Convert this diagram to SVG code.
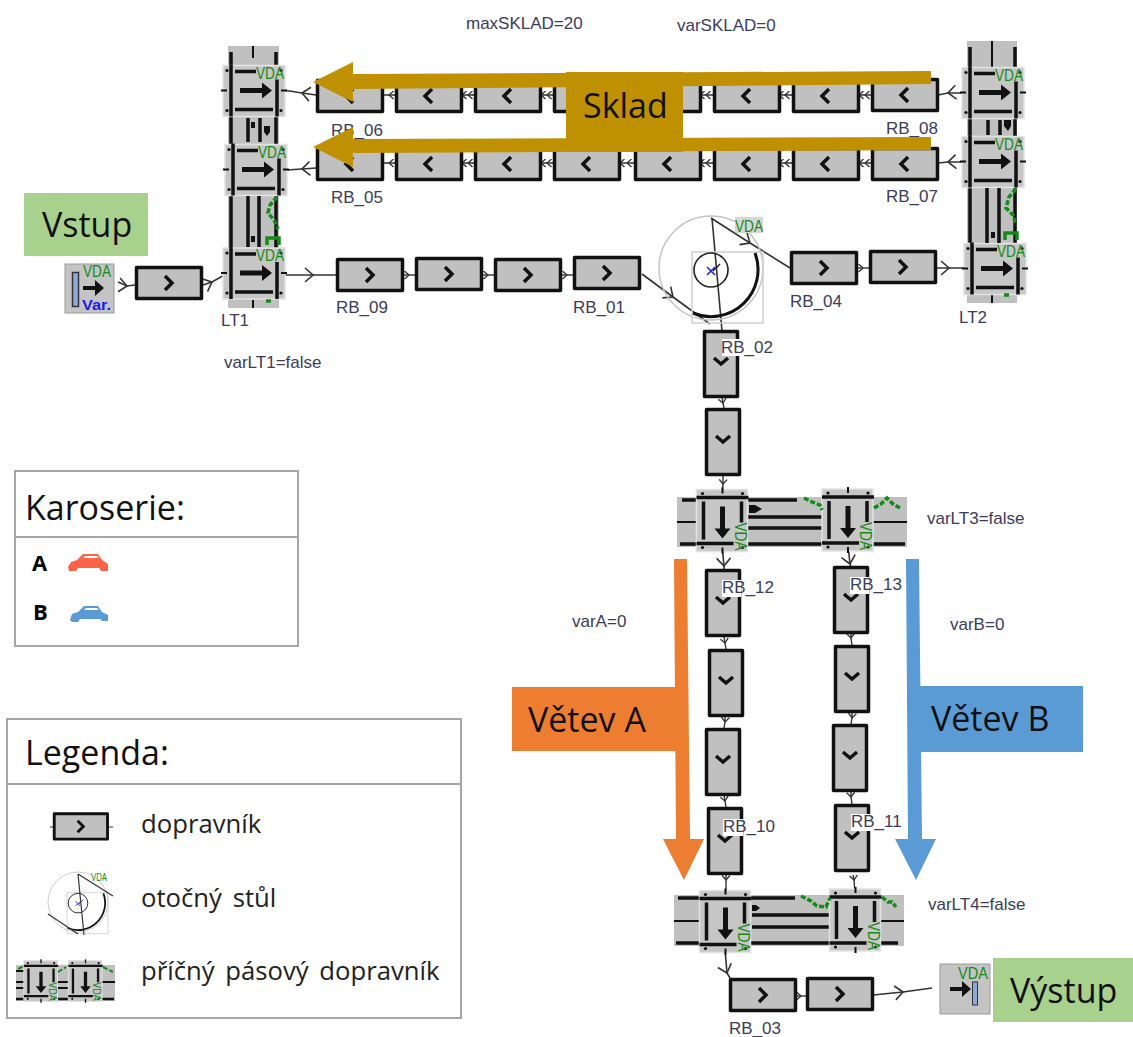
<svg xmlns="http://www.w3.org/2000/svg" xmlns:xlink="http://www.w3.org/1999/xlink" width="1133" height="1037" viewBox="0 0 1133 1037">
<style>
.lab{font-family:"Liberation Sans",Arial,sans-serif;font-size:17px;fill:#3c3c58}
.big{font-family:"Open Sans","Noto Sans",sans-serif;font-size:34px;fill:#111}
.leg{font-family:"Open Sans","Noto Sans",sans-serif;font-size:25.7px;word-spacing:4px;fill:#222}
.ab{font-family:"Open Sans","Noto Sans",sans-serif;font-size:22px;font-weight:700;fill:#000}
.vda{font-family:"Liberation Sans",Arial,sans-serif;font-size:17px;fill:#168a16}
.cb{fill:#c0c0c0;stroke:#111;stroke-width:3.5;stroke-linejoin:round}
.ch{fill:none;stroke:#111;stroke-width:3.5}
.bar{fill:none;stroke:#111;stroke-width:3.5}
.bar2{fill:none;stroke:#111;stroke-width:2}
.grn{fill:none;stroke:#168a16;stroke-width:3.5;stroke-dasharray:5 2}
.band{fill:#c0c0c0}
.unit{fill:#c6c6c6;stroke:#e2e2e2;stroke-width:1.5}
.dot{fill:#111}
.frame{fill:#fff;stroke:#a6a6a6;stroke-width:2}
.ln{fill:none;stroke:#a6a6a6;stroke-width:2}
.c{fill:none;stroke:#333;stroke-width:1.6;marker-mid:url(#fork)}
.s{fill:none;stroke:#333;stroke-width:1.4;marker-mid:url(#forks)}
.w{fill:#fff}
</style>
<defs>
<marker id="fork" markerUnits="userSpaceOnUse" viewBox="-10 -8 12 16" markerWidth="12" markerHeight="16" orient="auto"><path d="M-8,-7 L0,0 L-8,7" fill="none" stroke="#333" stroke-width="1.6"/></marker>
<marker id="forks" markerUnits="userSpaceOnUse" viewBox="-10 -8 12 16" markerWidth="7" markerHeight="9" orient="auto"><path d="M-8,-7 L0,0 L-8,7" fill="none" stroke="#333" stroke-width="2.4"/></marker>
<g id="conv-r"><rect class="cb" x="1.5" y="1.5" width="65" height="31"/><path class="ch" d="M30,10 L37,17 L30,24"/></g>
<g id="conv-l"><rect class="cb" x="1.5" y="1.5" width="65" height="31"/><path class="ch" d="M37,10 L30,17 L37,24"/></g>
<g id="conv-d"><rect class="cb" x="1.5" y="1.5" width="33" height="65"/><path class="ch" d="M11,28 L18,34 L25,28"/></g>
<g id="lt-r">
<rect class="unit" x="-31" y="-25" width="62" height="51"/>
<path class="bar" d="M-23,-26 V26 M23,-11 V26 M-19,-19 H2 M-19,19 H19"/>
<path d="M-14,-2.5 H8 V-8 L18,0 L8,8 V2.5 H-14 Z" fill="#111"/>
<path class="bar2" d="M-33,0 H-27 M27,0 H33"/>
<circle class="dot" cx="-27" cy="-20" r="1.6"/><circle class="dot" cx="27" cy="-20" r="1.6"/><circle class="dot" cx="-27" cy="20" r="1.6"/><circle class="dot" cx="27" cy="20" r="1.6"/>
<text class="vda" x="2" y="-12" textLength="28" lengthAdjust="spacingAndGlyphs">VDA</text>
</g>
<g id="table">
<circle cx="0" cy="0" r="52" fill="none" stroke="#c4c4c4" stroke-width="1.5"/>
<rect x="-19" y="-16" width="71" height="71" fill="none" stroke="#cfcfcf" stroke-width="1.5"/>
<circle cx="0" cy="2" r="17" fill="none" stroke="#222" stroke-width="1.6"/>
<path d="M44,-15 A47,47 0 0 1 -18,45" fill="none" stroke="#111" stroke-width="3"/>
<path d="M-4,-1 L4,7 M-4,7 L4,-1" stroke="#2222ee" stroke-width="1.6" fill="none"/>
<path d="M2,3 L9,-4" stroke="#222" stroke-width="1.4" fill="none"/>
</g>
</defs>

<g id="connectors">
<path class="c" d="M118,282 L127,286 L135,285"/>
<path class="c" d="M203,285 L212,282 L228,273"/>
<path class="c" d="M281,275 L313,275 L336,275"/>
<path class="s" d="M403,275 L409,275 L415,275"/>
<path class="s" d="M482,275 L488,275 L494,275"/>
<path class="s" d="M561,275 L567,275 L573,275"/>
<path class="c" d="M642,274 L673,297 L710,324"/>
<path class="c" d="M711,218 L750,243 L790,268"/>
<path fill="none" stroke="#333" stroke-width="1.6" d="M712,218 L722,331"/>
<path class="s" d="M857,268 L863,268 L869,268"/>
<path class="c" d="M936,268 L949,268 L970,268"/>
<path class="c" d="M966,93 L948,93 L938,95"/>
<path class="c" d="M966,162 L948,162 L938,163"/>
<path class="c" d="M316,95 L302,93 L283,90"/>
<path class="c" d="M316,168 L302,169 L287,170"/>
<path class="s" d="M872,95 L865,95 L859,95 M792,95 L785,95 L779,95 M713,95 L706,95 L700,95 M634,95 L627,95 L620,95 M553,95 L547,95 L541,95 M474,95 L468,95 L462,95 M395,95 L389,95 L384,95"/>
<path class="s" d="M872,163 L865,163 L859,163 M792,163 L785,163 L779,163 M713,163 L706,163 L700,163 M634,163 L627,163 L620,163 M553,163 L547,163 L541,163 M474,163 L468,163 L462,163 M395,163 L389,163 L384,163"/>
<path class="s" d="M722,397 L723,403 L724,408"/>
<path class="s" d="M723,476 L723,484 L722,497"/>
<path class="c" d="M722,545 L724,566 L724,569"/>
<path class="c" d="M848,545 L850,564 L851,567"/>
<path class="s" d="M724,637 L725,643 L726,649"/>
<path class="s" d="M725,717 L725,722 L724,728"/>
<path class="s" d="M724,795 L725,801 L726,807"/>
<path class="s" d="M851,632 L851,638 L852,645"/>
<path class="s" d="M852,712 L852,718 L851,724"/>
<path class="s" d="M851,791 L851,797 L852,804"/>
<path class="s" d="M726,875 L726,880 L726,893"/>
<path class="s" d="M853,875 L854,880 L855,893"/>
<path class="c" d="M725,950 L727,973 L730,978"/>
<path class="s" d="M797,996 L801,996 L806,996"/>
<path class="c" d="M873,995 L903,992 L932,988"/>
</g>

<g id="source"><rect x="65" y="264" width="49" height="49" fill="#c4c4c4" stroke="#9a9a9a" stroke-width="1"/><rect x="72.5" y="272.5" width="6" height="34" fill="#8fa8dc" stroke="#333" stroke-width="1.5"/><path d="M83,286 H95 V280 L104,288 L95,296 V290 H83 Z" fill="#111"/><text class="vda" x="83" y="277" textLength="28" lengthAdjust="spacingAndGlyphs">VDA</text><text x="82" y="310" font-family="Liberation Sans,Arial,sans-serif" font-size="14" font-weight="700" fill="#1a1aee" textLength="29" lengthAdjust="spacingAndGlyphs">Var.</text></g>
<g id="conv-in"><use href="#conv-r" x="135" y="266"/></g>

<g id="LT1">
<rect class="band" x="228" y="46" width="51" height="262"/>
<path class="bar" d="M231,52 V298 M276,52 V298"/>
<path class="bar2" d="M253,46 V58 M253,300 V308"/>
<use href="#lt-r" x="254" y="90.5"/><use href="#lt-r" x="256" y="169.5"/><use href="#lt-r" x="254" y="273"/>
<path class="bar" d="M248,118 V142 M260,118 V142 M248,196 V247 M259,196 V247"/>
<path d="M251,122 h4 v6 h-4z M264,126 h6 v6 l-3,4 l-3,-4z" fill="#111"/><path d="M251,236 h4 v6 h-4z" fill="#111"/>
<path class="grn" d="M277,197 L270,205 L268,213 L274,220 L278,229"/>
<path class="grn" style="stroke-dasharray:none" d="M267,245 V238 H279 V245"/>
<path class="grn" d="M266,301 H271"/>
</g>
<g id="LT2">
<rect class="band" x="967" y="41" width="50" height="262"/>
<path class="bar" d="M970,47 V290 M1015,47 V290"/>
<path class="bar2" d="M992,41 V68 M992,295 V303"/>
<use href="#lt-r" x="993" y="92.5"/><use href="#lt-r" x="993" y="161.5"/><use href="#lt-r" x="995" y="268.5"/>
<path class="bar" d="M988,120 V135 M1000,120 V135 M987,188 V243 M999,188 V243"/>
<path d="M1004,120 h7 v6 l-3,5 l-4,-5z M991,232 h4 v6 h-4z" fill="#111"/>
<path class="grn" d="M1016,189 L1009,197 L1006,208 L1013,215 L1016,225"/>
<path class="grn" style="stroke-dasharray:none" d="M1005,240 V233 H1017 V240"/>
<path class="grn" d="M1004,295 H1010"/>
</g>

<g id="RB_06"><use href="#conv-l" x="316" y="79"/></g>
<g id="RB_06b"><use href="#conv-l" x="395" y="79"/></g>
<g id="RB_06c"><use href="#conv-l" x="474" y="79"/></g>
<g id="RB_06d"><use href="#conv-l" x="553" y="79"/></g>
<g id="RB_06e"><use href="#conv-l" x="634" y="79"/></g>
<g id="RB_06f"><use href="#conv-l" x="713" y="79"/></g>
<g id="RB_06g"><use href="#conv-l" x="792" y="79"/></g>
<g id="RB_08"><use href="#conv-l" x="871" y="78"/></g>
<g id="RB_05"><use href="#conv-l" x="316" y="147"/></g>
<g id="RB_05b"><use href="#conv-l" x="395" y="147"/></g>
<g id="RB_05c"><use href="#conv-l" x="474" y="147"/></g>
<g id="RB_05d"><use href="#conv-l" x="553" y="147"/></g>
<g id="RB_05e"><use href="#conv-l" x="634" y="147"/></g>
<g id="RB_05f"><use href="#conv-l" x="713" y="147"/></g>
<g id="RB_05g"><use href="#conv-l" x="792" y="147"/></g>
<g id="RB_07"><use href="#conv-l" x="871" y="147"/></g>
<g id="RB_09"><use href="#conv-r" x="336" y="258"/></g>
<g id="RB_09b"><use href="#conv-r" x="415" y="257"/></g>
<g id="RB_09c"><use href="#conv-r" x="494" y="258"/></g>
<g id="RB_01"><use href="#conv-r" x="573" y="256"/></g>
<g id="table1"><use href="#table" x="711" y="268"/><rect x="735" y="217" width="28" height="16" fill="#d6d6d6"/><text class="vda" x="735" y="232" textLength="28" lengthAdjust="spacingAndGlyphs">VDA</text></g>
<g id="RB_04"><use href="#conv-r" x="790" y="251"/></g>
<g id="RB_04b"><use href="#conv-r" x="869" y="250"/></g>
<g id="RB_02"><use href="#conv-d" x="703" y="330"/></g>
<g id="RB_02b"><use href="#conv-d" x="705" y="408"/></g>

<g id="LT3">
<rect class="band" x="677" y="497" width="230" height="50"/>
<path class="bar" d="M682,500 H697 M748,500 H797 M748,517 H822 M748,528 H822 M680,544 H905"/>
<path class="bar2" d="M677,522 H697 M873,522 H907"/>
<use href="#lt-r" transform="translate(722.5,520.5) rotate(90)"/><use href="#lt-r" transform="translate(848,520) rotate(90)"/>
<path d="M749,505 h6 l7,4 l-7,4 h-6z" fill="#111"/>
<path class="grn" d="M804,498 L812,502 L820,505 L822,510"/>
<path class="grn" d="M874,508 L881,504 L887,498 L893,504 L900,508"/>
</g>
<g id="RB_12"><use href="#conv-d" x="705" y="569"/></g>
<g id="RB_12b"><use href="#conv-d" x="708" y="649"/></g>
<g id="RB_12c"><use href="#conv-d" x="705" y="728"/></g>
<g id="RB_10"><use href="#conv-d" x="707" y="807"/></g>
<g id="RB_13"><use href="#conv-d" x="833" y="566"/></g>
<g id="RB_13b"><use href="#conv-d" x="834" y="645"/></g>
<g id="RB_13c"><use href="#conv-d" x="832" y="724"/></g>
<g id="RB_11"><use href="#conv-d" x="834" y="804"/></g>
<g id="LT4">
<rect class="band" x="674" y="895" width="230" height="51"/>
<path class="bar" d="M678,898 H700 M751,898 H795 M752,915 H830 M752,927 H830 M676,943 H898"/>
<path class="bar2" d="M674,921 H700 M881,921 H904"/>
<use href="#lt-r" transform="translate(725.5,921.5) rotate(90)"/><use href="#lt-r" transform="translate(855.5,920) rotate(90)"/>
<path d="M752,905 h4 l4,3 l-4,3 h-4z" fill="#111"/>
<path class="grn" d="M801,896 L811,901 L817,906 L826,907 L830,898"/>
<path class="grn" d="M882,897 L888,902 L892,902 L896,907"/>
</g>
<g id="RB_03"><use href="#conv-r" x="729" y="978"/></g>
<g id="RB_03b"><use href="#conv-r" x="806" y="977"/></g>
<g id="sink"><rect x="940" y="964" width="50" height="50" fill="#c4c4c4" stroke="#9a9a9a" stroke-width="1"/><path d="M950,987 H962 V981 L971,989 L962,997 V991 H950 Z" fill="#111"/><rect x="972.5" y="982" width="5" height="23" fill="#8fa8dc" stroke="#333" stroke-width="1"/><text class="vda" x="958" y="979" textLength="30" lengthAdjust="spacingAndGlyphs">VDA</text></g>

<g id="labels">
<rect class="w" x="722" y="339" width="19" height="17"/><rect class="w" x="722" y="580" width="19" height="17"/><rect class="w" x="850" y="577" width="19" height="17"/><rect class="w" x="723" y="819" width="20" height="17"/><rect class="w" x="851" y="814" width="20" height="17"/>
<text class="lab" x="331" y="136">RB_06</text><text class="lab" x="331" y="203">RB_05</text><text class="lab" x="336" y="313">RB_09</text><text class="lab" x="221" y="326">LT1</text>
<text class="lab" x="886" y="134">RB_08</text><text class="lab" x="886" y="202">RB_07</text><text class="lab" x="790" y="307">RB_04</text><text class="lab" x="959" y="323">LT2</text>
<text class="lab" x="573" y="313">RB_01</text><text class="lab" x="721" y="353">RB_02</text><text class="lab" x="722" y="593">RB_12</text><text class="lab" x="850" y="590">RB_13</text><text class="lab" x="723" y="832">RB_10</text><text class="lab" x="851" y="827">RB_11</text><text class="lab" x="729" y="1034">RB_03</text>
<text class="lab" x="224" y="368">varLT1=false</text><text class="lab" x="927" y="524">varLT3=false</text><text class="lab" x="928" y="910">varLT4=false</text><text class="lab" x="572" y="627">varA=0</text><text class="lab" x="950" y="630">varB=0</text><text class="lab" x="466" y="29">maxSKLAD=20</text><text class="lab" x="677" y="31">varSKLAD=0</text>
</g>

<g id="sklad" fill="#bf9000">
<path d="M313,82 L353,62 V74 L931,71 V84 L353,89 V102 Z"/>
<path d="M313,147 L353,127 V139 L931,137 V150 L353,153 V167 Z"/>
<rect x="566" y="72" width="117" height="80"/>
<text class="big" x="583" y="118">Sklad</text>
</g>
<g id="vetevA" fill="#ed7d31">
<path d="M674,559 H687 L690,839 H704 L684,880 L663,839 H676 Z"/>
<rect x="512" y="687" width="165" height="64"/>
<text class="big" x="528" y="732">Větev A</text>
</g>
<g id="vetevB" fill="#5b9bd5">
<path d="M906,559 H919 L922,839 H936 L916,880 L895,839 H908 Z"/>
<rect x="918" y="686" width="165" height="66"/>
<text class="big" x="931" y="731">Větev B</text>
</g>
<g id="vstup"><rect x="24" y="193" width="124" height="63" fill="#a9d18e"/><text class="big" x="42" y="237">Vstup</text></g>
<g id="vystup"><rect x="993" y="958" width="140" height="64" fill="#a9d18e"/><text class="big" x="1010" y="1003">Výstup</text></g>

<g id="karoserie">
<rect class="frame" x="15" y="471" width="283" height="175"/><path class="ln" d="M15,537 H298"/>
<text class="big" x="25" y="520">Karoserie:</text>
<text class="ab" x="32" y="571">A</text><text class="ab" x="33" y="620">B</text>
<path d="M68,567 L71,562 L77,560 L83,554 H98 L102,560 L108,564 V571 H101 L99,568 H78 L76,571 H69 Z" fill="#ff6347"/>
<path d="M83,558 L85,556 H97 L99,558 Z" fill="#fff"/>
<path d="M70,620 L72,614 L78,612 L84,606 H98 L102,612 L108,615 V621 H102 L100,619 H80 L78,622 H72 Z" fill="#5b9bd5"/>
<path d="M84,610 L86,608 H97 L99,610 Z" fill="#fff"/>
</g>

<g id="legenda">
<rect class="frame" x="7" y="719" width="454" height="299"/><path class="ln" d="M7,784 H461"/>
<text class="big" x="25" y="765">Legenda:</text>
<use href="#conv-r" transform="translate(53,812.5) scale(.82)"/>
<path fill="none" stroke="#333" stroke-width="1.2" d="M50,827 H53 M109,827 H113"/>
<text class="leg" x="141" y="833">dopravník</text>
<use href="#table" transform="translate(78,902) scale(.577)"/>
<path fill="none" stroke="#333" stroke-width="1.2" d="M78,874 L84,935 M78,874 L113,896 M48,914 L78,934"/>
<text class="vda" style="font-size:10px" x="91" y="881" textLength="16" lengthAdjust="spacingAndGlyphs">VDA</text>
<text class="leg" x="141" y="907">otočný stůl</text>
<g id="legend-lt">
<rect class="band" x="16" y="965" width="99" height="36"/>
<path class="bar" d="M16,999 H114" style="stroke-width:2.5"/>
<path class="bar2" d="M16,971 H24 M16,982 H24 M16,988 H24 M58,982 H68 M58,988 H68 M102,982 H115"/>
<use href="#lt-r" transform="translate(41,981) rotate(90) scale(.66)"/><use href="#lt-r" transform="translate(85.5,981) rotate(90) scale(.66)"/>
<path class="grn" style="stroke-width:2" d="M18,969 L24,966 M58,972 L66,967 M103,967 L113,972"/>
</g>
<text class="leg" x="141" y="980">příčný pásový dopravník</text>
</g>
</svg>
